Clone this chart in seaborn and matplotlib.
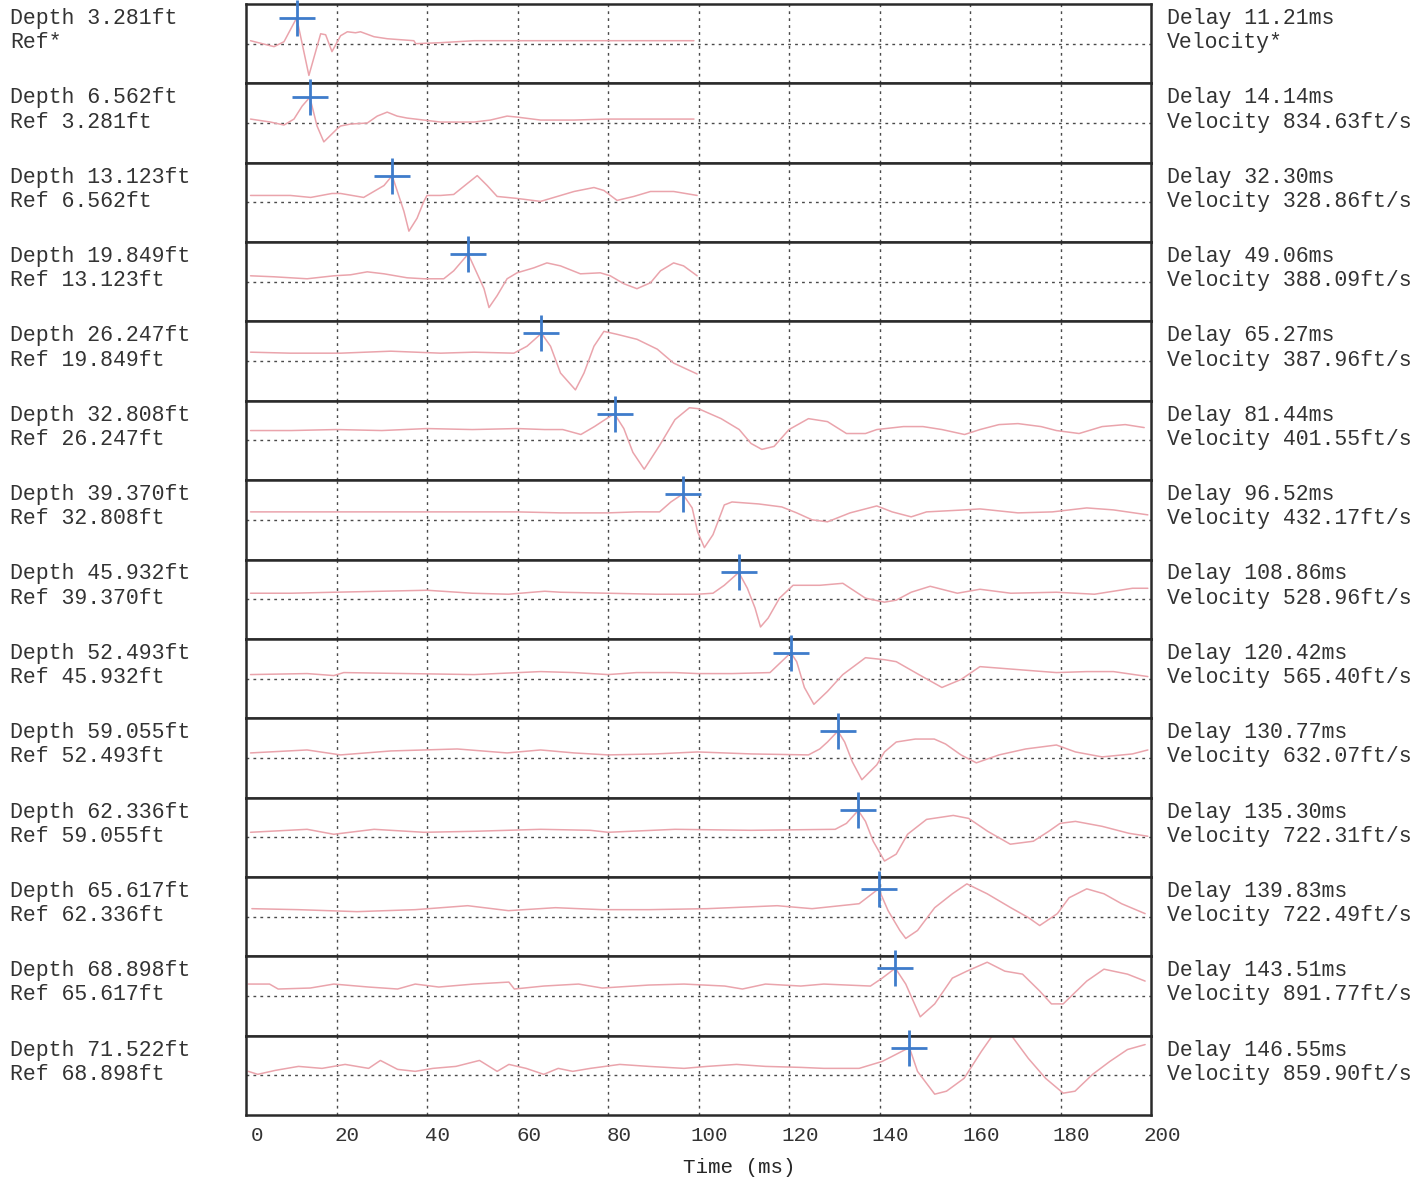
import matplotlib.pyplot as plt
import seaborn as sns
from matplotlib.transforms import ScaledTranslation, blended_transform_factory

# picked values per receiver depth
depths = ["3.281", "6.562", "13.123", "19.849", "26.247", "32.808", "39.370",
          "45.932", "52.493", "59.055", "62.336", "65.617", "68.898", "71.522"]
refs = [None, "3.281", "6.562", "13.123", "19.849", "26.247", "32.808",
        "39.370", "45.932", "52.493", "59.055", "62.336", "65.617", "68.898"]
delays = [11.21, 14.14, 32.30, 49.06, 65.27, 81.44, 96.52,
          108.86, 120.42, 130.77, 135.30, 139.83, 143.51, 146.55]
velocities = [None, 834.63, 328.86, 388.09, 387.96, 401.55, 432.17,
              528.96, 565.40, 632.07, 722.31, 722.49, 891.77, 859.90]
pick_amp = [26, 26, 27, 28, 28, 27, 26, 27, 26, 27, 27, 28, 28, 28]

time_ticks = [0, 20, 40, 60, 80, 100, 120, 140, 160, 180, 200]

# traces (time ms, amplitude)
t01 = [1.0, 6.2, 8.4, 11.2, 13.9, 16.5, 17.6, 19.0, 20.9, 22.4, 24.2, 25.3, 28.3,
       31.2, 37.1, 37.5, 43.0, 50.4, 72.5, 99.0]
a01 = [3, -3, 2, 26, -32, 10, 9, -8, 8, 12, 11, 12, 7, 5, 3, 0, 1, 3, 3, 3]

t02 = [1.0, 5.4, 8.4, 10.6, 12.4, 14.1, 15.7, 17.2, 20.1, 20.9, 23.1, 26.8, 29.0,
       31.2, 33.4, 35.6, 39.3, 43.0, 50.4, 54.0, 57.7, 59.9, 65.1, 72.5, 79.8, 99.0]
a02 = [4, 1, -2, 4, 17, 26, -3, -19, -6, -3, -1, 0, 7, 11, 7, 5, 3, 1, 1, 3, 7, 6,
       3, 3, 4, 4]

t03 = [1.0, 9.8, 14.3, 19.0, 20.9, 26.0, 30.5, 32.3, 34.9, 36.0, 37.8, 39.3, 40.0,
       43.0, 45.9, 48.9, 51.1, 53.3, 55.5, 59.9, 65.1, 68.8, 72.5, 76.9, 79.1, 82.0,
       85.7, 89.4, 94.5, 99.7]
a03 = [7, 7, 5, 9, 9, 5, 17, 27, -9, -29, -16, 1, 7, 7, 8, 19, 27, 17, 6, 4, 1, 6,
       11, 15, 12, 2, 6, 11, 11, 7]

t04 = [1.0, 6.2, 13.5, 19.4, 23.1, 26.8, 30.5, 35.6, 39.3, 43.7, 45.9, 49.1, 52.6,
       53.7, 55.5, 57.7, 59.9, 63.6, 66.5, 69.5, 73.9, 78.3, 80.5, 83.5, 86.4, 89.4,
       91.6, 94.5, 96.7, 99.7]
a04 = [6, 5, 3, 6, 7, 10, 8, 4, 3, 3, 11, 28, -7, -26, -14, 3, 9, 14, 19, 16, 8, 9,
       6, -2, -7, -1, 11, 19, 16, 6]

t05 = [1.0, 9.8, 20.9, 32.0, 43.0, 50.4, 59.2, 62.1, 65.3, 67.3, 69.5, 72.8, 74.7,
       76.9, 79.1, 82.0, 86.4, 90.9, 94.5, 99.7]
a05 = [9, 8, 8, 10, 8, 9, 8, 15, 28, 15, -12, -29, -12, 15, 30, 27, 22, 12, -2, -13]

t06 = [1, 10, 20, 30, 40, 50, 60, 66, 70, 74, 77, 79, 81.4, 83.5, 85.5, 88, 91.4,
       94.8, 98, 100, 105, 109, 111.6, 114, 116.7, 120, 124.3, 128.5, 132.7, 136.9,
       139.4, 145.3, 149.6, 153.8, 158.8, 162.2, 166.4, 170.6, 175.7, 179.1, 184.1,
       189.2, 194.3, 198.5]
a06 = [10, 10, 11, 10, 12, 11, 12, 11, 11, 6, 14, 20, 27, 12, -12, -29, -5, 21, 33,
       32, 22, 11, -3, -9, -6, 11, 22, 19, 7, 7, 11, 14, 14, 11, 6, 11, 16, 17, 14,
       10, 7, 14, 16, 13]

t07 = [1, 20, 40, 60, 69.5, 80, 86.3, 91.4, 93.9, 96.5, 98.6, 99.8, 101.3, 103.2,
       105.7, 107.4, 113.3, 118.4, 121.7, 125.1, 128.5, 133.5, 139.4, 142.8, 147.0,
       150.4, 158.8, 162.2, 170.6, 178.2, 185.8, 191.7, 199.3]
a07 = [8, 8, 8, 8, 7, 7, 8, 8, 18, 26, 12, -12, -28, -15, 15, 18, 16, 13, 7, 0, -2,
       7, 14, 8, 3, 8, 10, 11, 7, 8, 12, 10, 5]

t08 = [1, 10, 19.4, 30, 40, 50, 58, 66, 69.5, 80, 90.5, 99.8, 103.2, 105.7, 108.9,
       110.8, 112.5, 113.7, 115.4, 117.9, 120.9, 126.8, 131.9, 136.9, 141.1, 143.7,
       147.0, 151.2, 157.2, 162.2, 169.0, 179.1, 187.5, 195.9, 199.3]
a08 = [6, 6, 7, 8, 9, 6, 5, 8, 7, 6, 5, 5, 6, 14, 27, 11, -9, -28, -19, 1, 14, 14,
       16, 1, -3, -1, 7, 13, 6, 10, 6, 7, 5, 11, 11]

t09 = [1, 13.5, 19.4, 21.6, 35.6, 50.4, 65.1, 72.5, 80, 86.3, 94.8, 99.8, 107.4,
       115.8, 120.4, 121.7, 123.4, 125.5, 128.5, 131.9, 136.9, 141.1, 143.7, 148.7,
       153.8, 158.0, 162.2, 170.6, 179.1, 185.8, 191.7, 199.3]
a09 = [4, 5, 3, 6, 5, 4, 7, 6, 4, 6, 6, 5, 5, 6, 26, 17, -9, -26, -13, 4, 21, 19, 17,
       4, -9, -1, 12, 9, 6, 7, 7, 2]

t10 = [1, 13.5, 20.9, 32.0, 46.7, 57.7, 65.1, 72.5, 80, 90.5, 99.8, 111.6, 124.3,
       126.8, 128.5, 130.8, 132.3, 134.0, 136.1, 139.4, 141.1, 143.7, 147.9, 152.1,
       154.6, 158.0, 161.4, 166.4, 172.3, 179.1, 183.3, 189.2, 195.9, 199.3]
a10 = [5, 8, 3, 7, 9, 5, 8, 5, 3, 4, 6, 4, 3, 9, 16, 27, 16, -4, -22, -7, 6, 16, 19,
       19, 14, 3, -5, 3, 9, 13, 6, 1, 4, 8]

t11 = [1, 13.5, 19.4, 28.3, 39.3, 50.4, 65.1, 76.1, 80, 94.8, 111.6, 130.2, 132.7,
       135.3, 136.9, 138.6, 141.1, 143.7, 146.2, 150.4, 156.3, 159.7, 163.9, 168.9,
       174.0, 177.4, 179.9, 183.3, 189.2, 195.1, 199.3]
a11 = [5, 8, 3, 8, 5, 6, 8, 7, 5, 8, 7, 8, 14, 27, 16, -4, -24, -17, 3, 18, 22, 19, 6,
       -7, -4, 6, 14, 16, 11, 4, 1]

t12 = [1.3, 11.6, 24.5, 37.4, 49.0, 58.0, 68.4, 78.7, 89.0, 101.9, 117.4, 125.1,
       135.5, 139.8, 141.9, 144.5, 145.8, 148.4, 152.2, 156.1, 159.3, 163.8, 169.0,
       172.9, 175.4, 179.3, 181.9, 185.8, 189.6, 193.5, 198.7]
a12 = [8, 7, 5, 7, 11, 6, 9, 7, 7, 8, 11, 8, 13, 28, 6, -14, -22, -14, 9, 23, 33, 23,
       9, -1, -9, 3, 19, 28, 23, 13, 3]

t13 = [0.5, 5.2, 7.1, 14.2, 19.4, 27.1, 33.5, 37.4, 42.6, 50.3, 58.1, 59.3, 65.8,
       73.5, 78.7, 89.0, 96.8, 105.8, 109.7, 114.8, 122.6, 127.7, 138.0, 140.6, 143.5,
       145.8, 149.0, 152.2, 156.1, 159.3, 163.8, 167.7, 171.6, 175.4, 178.0, 180.6,
       185.8, 189.6, 194.8, 198.7]
a13 = [12, 12, 7, 8, 12, 9, 7, 12, 9, 12, 14, 7, 10, 12, 8, 11, 12, 10, 7, 12, 10, 12,
       10, 18, 28, 12, -21, -8, 18, 25, 34, 25, 22, 5, -8, -8, 15, 27, 22, 15]

t14 = [0.5, 2.6, 6.5, 11.6, 16.8, 21.9, 27.1, 29.7, 33.5, 37.4, 41.3, 46.4, 51.6,
       55.5, 58.1, 61.9, 65.8, 69.0, 72.2, 76.1, 82.6, 89.0, 96.8, 101.9, 108.4, 114.8,
       122.6, 127.7, 135.5, 140.6, 146.6, 148.4, 152.2, 154.8, 158.7, 162.5, 165.1,
       169.0, 172.9, 176.7, 180.6, 183.2, 187.1, 190.9, 194.8, 198.7]
a14 = [4, 1, 5, 9, 7, 11, 7, 15, 6, 4, 7, 9, 15, 4, 11, 7, 1, 7, 4, 7, 11, 9, 7, 9,
       11, 9, 8, 7, 7, 14, 28, 4, -19, -16, -3, 24, 41, 41, 17, -3, -18, -16, 1, 14,
       26, 31]

traces = [(t01, a01), (t02, a02), (t03, a03), (t04, a04), (t05, a05), (t06, a06),
          (t07, a07), (t08, a08), (t09, a09), (t10, a10), (t11, a11), (t12, a12),
          (t13, a13), (t14, a14)]

sns.set_theme(style="white")
plt.rcParams["font.family"] = ["Liberation Mono", "DejaVu Sans"]
plt.rcParams["text.color"] = "#333333"

fig, axes = plt.subplots(len(traces), 1, sharex=True, figsize=(14.27, 11.78), dpi=100)
fig.subplots_adjust(left=246 / 1427, right=1151 / 1427, top=1 - 4 / 1178,
                    bottom=1 - 1115 / 1178, hspace=0)

trace_color = "#eaa4ac"
pick_color = "#3f7ccb"
grid_color = "#4a4a4a"

for i, ax in enumerate(axes):
    t, a = traces[i]
    sns.lineplot(x=t, y=a, ax=ax, color=trace_color, linewidth=1.1,
                 estimator=None, sort=False)
    sns.scatterplot(x=[delays[i]], y=[pick_amp[i]], ax=ax, marker="+", s=640,
                    color=pick_color, linewidth=2.0, clip_on=False, zorder=5)

    ax.set_xlim(0, 200)
    ax.set_ylim(-40, 40)
    ax.set_yticks([])
    ax.set_ylabel("")
    for x in time_ticks[1:-1]:
        ax.axvline(x, color=grid_color, lw=1.0, ls=(0, (2, 3)), zorder=0)
    ax.axhline(0, color=grid_color, lw=1.0, ls=(0, (2, 3)), zorder=0)
    for sp in ax.spines.values():
        sp.set_linewidth(1.8)
        sp.set_color("#2a2a2a")

    left = f"Depth {depths[i]}ft\n" + ("Ref*" if refs[i] is None else f"Ref {refs[i]}ft")
    right = f"Delay {delays[i]:.2f}ms\n" + (
        "Velocity*" if velocities[i] is None else f"Velocity {velocities[i]:.2f}ft/s")
    tr = blended_transform_factory(fig.transFigure, ax.transAxes)
    ax.text(10 / 1427, 0.665, left, transform=tr, ha="left", va="center",
            fontsize=15.5, linespacing=1.2)
    ax.text(1167 / 1427, 0.665, right, transform=tr, ha="left", va="center",
            fontsize=15.5, linespacing=1.2)
    ax.tick_params(axis="x", length=0)

bottom = axes[-1]
bottom.set_xticks(time_ticks)
bottom.set_xticklabels([str(v) for v in time_ticks], fontsize=15)
bottom.tick_params(axis="x", pad=8, labelcolor="#333333")
shift = ScaledTranslation(11 / 100, 0, fig.dpi_scale_trans)
for lab in bottom.get_xticklabels():
    lab.set_transform(lab.get_transform() + shift)
bottom.set_xlabel("Time (ms)", fontsize=15)
bottom.xaxis.set_label_coords((739 - 246) / 905, -0.54)

fig.savefig("out.png", dpi=100, facecolor="white")
